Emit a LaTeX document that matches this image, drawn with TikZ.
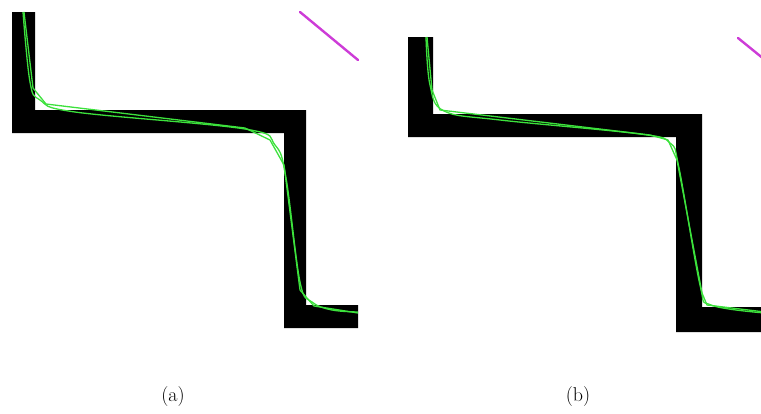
\documentclass[tikz,border=0pt]{standalone}
\usepackage{tikz}
\definecolor{fitgreen}{RGB}{60,225,60}
\definecolor{segpink}{RGB}{205,60,215}
\tikzset{
  wall/.style={fill=black},
  fitline/.style={fitgreen,line width=1.3pt,line join=round},
  fitcurve/.style={fitgreen,line width=1.3pt,smooth,tension=0.6},
  seg/.style={segpink,line width=2.4pt,line cap=round},
  sublabel/.style={font=\fontsize{20}{24}\selectfont}
}
\begin{document}
\begin{tikzpicture}[x=1pt,y=-1pt]
  \useasboundingbox (0,0) rectangle (761,413);
  % panel (a)
  \fill[wall] (12,12) -- (35,12) -- (35,110) -- (306,110) -- (306,305) -- (358,305)
    -- (358,328) -- (284,328) -- (284,133) -- (12,133) -- cycle;
  \draw[fitline] (24,12) -- (33,88) -- (46,104) -- (245,128) -- (270,140) -- (284,165)
    -- (300,290) -- (314,306) -- (358,313);
  \draw[fitcurve] plot coordinates {(23,12) (30,82) (40,100) (75,112) (245,129) (275,145)
    (286,178) (300,282) (312,302) (332,310) (358,312)};
  \draw[seg] (300,12) -- (358,60);
  \node[sublabel] (capa) at (173,397) {(a)};
  % panel (b)
  \begin{scope}
    \clip (0,0) rectangle (761,413);
    \fill[wall] (408,37) -- (433,37) -- (433,114) -- (702,114) -- (702,307) -- (770,307)
      -- (770,332) -- (676,332) -- (676,137) -- (408,137) -- cycle;
    \draw[fitline] (427,37) -- (432,90) -- (440,110) -- (650,135) -- (668,140) -- (677,160)
      -- (702,293) -- (707,305) -- (765,312);
    \draw[fitcurve] plot coordinates {(426,37) (430,85) (444,111) (500,120) (640,134)
      (670,143) (679,168) (700,285) (711,305) (765,313)};
    \draw[seg] (738,38) -- (770,64);
  \end{scope}
  \node[sublabel] (capb) at (578,397) {(b)};
\end{tikzpicture}
\end{document}
